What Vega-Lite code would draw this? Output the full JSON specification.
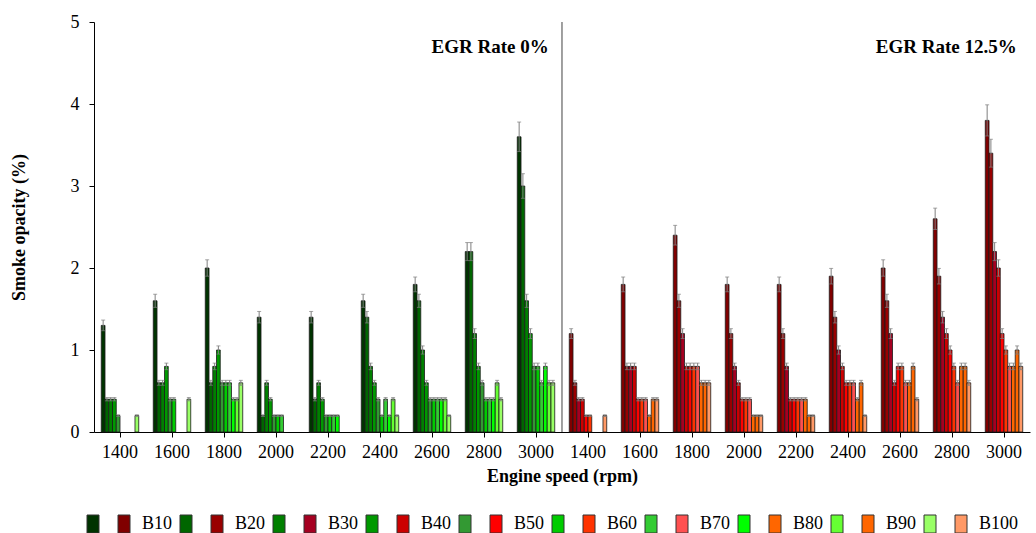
{
  "$schema": "https://vega.github.io/schema/vega-lite/v6.json",
  "width": 936,
  "height": 410,
  "autosize": "none",
  "padding": {"left": 94, "top": 22, "right": 6, "bottom": 101},
  "background": "white",
  "config": {
    "view": {"stroke": null},
    "font": "Liberation Serif",
    "axis": {
      "labelFont": "Liberation Serif",
      "titleFont": "Liberation Serif",
      "labelFontSize": 18,
      "titleFontSize": 18,
      "titleFontWeight": "bold",
      "labelColor": "black",
      "titleColor": "black",
      "domainColor": "black",
      "tickColor": "black",
      "tickSize": 5,
      "grid": false
    }
  },
  "datasets": {
    "bars": [
      {"c":"0%|1400","b":"B10","k":"G-B10","v":1.3,"e":0.065},
      {"c":"0%|1400","b":"B20","k":"G-B20","v":0.4,"e":0.02},
      {"c":"0%|1400","b":"B30","k":"G-B30","v":0.4,"e":0.02},
      {"c":"0%|1400","b":"B40","k":"G-B40","v":0.4,"e":0.02},
      {"c":"0%|1400","b":"B50","k":"G-B50","v":0.2,"e":0.01},
      {"c":"0%|1400","b":"B100","k":"G-B100","v":0.2,"e":0.01},
      {"c":"0%|1600","b":"B10","k":"G-B10","v":1.6,"e":0.08},
      {"c":"0%|1600","b":"B20","k":"G-B20","v":0.6,"e":0.03},
      {"c":"0%|1600","b":"B30","k":"G-B30","v":0.6,"e":0.03},
      {"c":"0%|1600","b":"B40","k":"G-B40","v":0.8,"e":0.04},
      {"c":"0%|1600","b":"B50","k":"G-B50","v":0.4,"e":0.02},
      {"c":"0%|1600","b":"B60","k":"G-B60","v":0.4,"e":0.02},
      {"c":"0%|1600","b":"B100","k":"G-B100","v":0.4,"e":0.02},
      {"c":"0%|1800","b":"B10","k":"G-B10","v":2.0,"e":0.1},
      {"c":"0%|1800","b":"B20","k":"G-B20","v":0.6,"e":0.03},
      {"c":"0%|1800","b":"B30","k":"G-B30","v":0.8,"e":0.04},
      {"c":"0%|1800","b":"B40","k":"G-B40","v":1.0,"e":0.05},
      {"c":"0%|1800","b":"B50","k":"G-B50","v":0.6,"e":0.03},
      {"c":"0%|1800","b":"B60","k":"G-B60","v":0.6,"e":0.03},
      {"c":"0%|1800","b":"B70","k":"G-B70","v":0.6,"e":0.03},
      {"c":"0%|1800","b":"B80","k":"G-B80","v":0.4,"e":0.02},
      {"c":"0%|1800","b":"B90","k":"G-B90","v":0.4,"e":0.02},
      {"c":"0%|1800","b":"B100","k":"G-B100","v":0.6,"e":0.03},
      {"c":"0%|2000","b":"B10","k":"G-B10","v":1.4,"e":0.07},
      {"c":"0%|2000","b":"B20","k":"G-B20","v":0.2,"e":0.01},
      {"c":"0%|2000","b":"B30","k":"G-B30","v":0.6,"e":0.03},
      {"c":"0%|2000","b":"B40","k":"G-B40","v":0.4,"e":0.02},
      {"c":"0%|2000","b":"B50","k":"G-B50","v":0.2,"e":0.01},
      {"c":"0%|2000","b":"B60","k":"G-B60","v":0.2,"e":0.01},
      {"c":"0%|2000","b":"B70","k":"G-B70","v":0.2,"e":0.01},
      {"c":"0%|2200","b":"B10","k":"G-B10","v":1.4,"e":0.07},
      {"c":"0%|2200","b":"B20","k":"G-B20","v":0.4,"e":0.02},
      {"c":"0%|2200","b":"B30","k":"G-B30","v":0.6,"e":0.03},
      {"c":"0%|2200","b":"B40","k":"G-B40","v":0.4,"e":0.02},
      {"c":"0%|2200","b":"B50","k":"G-B50","v":0.2,"e":0.01},
      {"c":"0%|2200","b":"B60","k":"G-B60","v":0.2,"e":0.01},
      {"c":"0%|2200","b":"B70","k":"G-B70","v":0.2,"e":0.01},
      {"c":"0%|2200","b":"B80","k":"G-B80","v":0.2,"e":0.01},
      {"c":"0%|2400","b":"B10","k":"G-B10","v":1.6,"e":0.08},
      {"c":"0%|2400","b":"B20","k":"G-B20","v":1.4,"e":0.07},
      {"c":"0%|2400","b":"B30","k":"G-B30","v":0.8,"e":0.04},
      {"c":"0%|2400","b":"B40","k":"G-B40","v":0.6,"e":0.03},
      {"c":"0%|2400","b":"B50","k":"G-B50","v":0.4,"e":0.02},
      {"c":"0%|2400","b":"B60","k":"G-B60","v":0.2,"e":0.01},
      {"c":"0%|2400","b":"B70","k":"G-B70","v":0.4,"e":0.02},
      {"c":"0%|2400","b":"B80","k":"G-B80","v":0.2,"e":0.01},
      {"c":"0%|2400","b":"B90","k":"G-B90","v":0.4,"e":0.02},
      {"c":"0%|2400","b":"B100","k":"G-B100","v":0.2,"e":0.01},
      {"c":"0%|2600","b":"B10","k":"G-B10","v":1.8,"e":0.09},
      {"c":"0%|2600","b":"B20","k":"G-B20","v":1.6,"e":0.08},
      {"c":"0%|2600","b":"B30","k":"G-B30","v":1.0,"e":0.05},
      {"c":"0%|2600","b":"B40","k":"G-B40","v":0.6,"e":0.03},
      {"c":"0%|2600","b":"B50","k":"G-B50","v":0.4,"e":0.02},
      {"c":"0%|2600","b":"B60","k":"G-B60","v":0.4,"e":0.02},
      {"c":"0%|2600","b":"B70","k":"G-B70","v":0.4,"e":0.02},
      {"c":"0%|2600","b":"B80","k":"G-B80","v":0.4,"e":0.02},
      {"c":"0%|2600","b":"B90","k":"G-B90","v":0.4,"e":0.02},
      {"c":"0%|2600","b":"B100","k":"G-B100","v":0.2,"e":0.01},
      {"c":"0%|2800","b":"B10","k":"G-B10","v":2.2,"e":0.11},
      {"c":"0%|2800","b":"B20","k":"G-B20","v":2.2,"e":0.11},
      {"c":"0%|2800","b":"B30","k":"G-B30","v":1.2,"e":0.06},
      {"c":"0%|2800","b":"B40","k":"G-B40","v":0.8,"e":0.04},
      {"c":"0%|2800","b":"B50","k":"G-B50","v":0.6,"e":0.03},
      {"c":"0%|2800","b":"B60","k":"G-B60","v":0.4,"e":0.02},
      {"c":"0%|2800","b":"B70","k":"G-B70","v":0.4,"e":0.02},
      {"c":"0%|2800","b":"B80","k":"G-B80","v":0.4,"e":0.02},
      {"c":"0%|2800","b":"B90","k":"G-B90","v":0.6,"e":0.03},
      {"c":"0%|2800","b":"B100","k":"G-B100","v":0.4,"e":0.02},
      {"c":"0%|3000","b":"B10","k":"G-B10","v":3.6,"e":0.18},
      {"c":"0%|3000","b":"B20","k":"G-B20","v":3.0,"e":0.15},
      {"c":"0%|3000","b":"B30","k":"G-B30","v":1.6,"e":0.08},
      {"c":"0%|3000","b":"B40","k":"G-B40","v":1.2,"e":0.06},
      {"c":"0%|3000","b":"B50","k":"G-B50","v":0.8,"e":0.04},
      {"c":"0%|3000","b":"B60","k":"G-B60","v":0.8,"e":0.04},
      {"c":"0%|3000","b":"B70","k":"G-B70","v":0.6,"e":0.03},
      {"c":"0%|3000","b":"B80","k":"G-B80","v":0.8,"e":0.04},
      {"c":"0%|3000","b":"B90","k":"G-B90","v":0.6,"e":0.03},
      {"c":"0%|3000","b":"B100","k":"G-B100","v":0.6,"e":0.03},
      {"c":"12.5%|1400","b":"B10","k":"R-B10","v":1.2,"e":0.06},
      {"c":"12.5%|1400","b":"B20","k":"R-B20","v":0.6,"e":0.03},
      {"c":"12.5%|1400","b":"B30","k":"R-B30","v":0.4,"e":0.02},
      {"c":"12.5%|1400","b":"B40","k":"R-B40","v":0.4,"e":0.02},
      {"c":"12.5%|1400","b":"B50","k":"R-B50","v":0.2,"e":0.01},
      {"c":"12.5%|1400","b":"B60","k":"R-B60","v":0.2,"e":0.01},
      {"c":"12.5%|1400","b":"B100","k":"R-B100","v":0.2,"e":0.01},
      {"c":"12.5%|1600","b":"B10","k":"R-B10","v":1.8,"e":0.09},
      {"c":"12.5%|1600","b":"B20","k":"R-B20","v":0.8,"e":0.04},
      {"c":"12.5%|1600","b":"B30","k":"R-B30","v":0.8,"e":0.04},
      {"c":"12.5%|1600","b":"B40","k":"R-B40","v":0.8,"e":0.04},
      {"c":"12.5%|1600","b":"B50","k":"R-B50","v":0.4,"e":0.02},
      {"c":"12.5%|1600","b":"B60","k":"R-B60","v":0.4,"e":0.02},
      {"c":"12.5%|1600","b":"B70","k":"R-B70","v":0.4,"e":0.02},
      {"c":"12.5%|1600","b":"B80","k":"R-B80","v":0.2,"e":0.01},
      {"c":"12.5%|1600","b":"B90","k":"R-B90","v":0.4,"e":0.02},
      {"c":"12.5%|1600","b":"B100","k":"R-B100","v":0.4,"e":0.02},
      {"c":"12.5%|1800","b":"B10","k":"R-B10","v":2.4,"e":0.12},
      {"c":"12.5%|1800","b":"B20","k":"R-B20","v":1.6,"e":0.08},
      {"c":"12.5%|1800","b":"B30","k":"R-B30","v":1.2,"e":0.06},
      {"c":"12.5%|1800","b":"B40","k":"R-B40","v":0.8,"e":0.04},
      {"c":"12.5%|1800","b":"B50","k":"R-B50","v":0.8,"e":0.04},
      {"c":"12.5%|1800","b":"B60","k":"R-B60","v":0.8,"e":0.04},
      {"c":"12.5%|1800","b":"B70","k":"R-B70","v":0.8,"e":0.04},
      {"c":"12.5%|1800","b":"B80","k":"R-B80","v":0.6,"e":0.03},
      {"c":"12.5%|1800","b":"B90","k":"R-B90","v":0.6,"e":0.03},
      {"c":"12.5%|1800","b":"B100","k":"R-B100","v":0.6,"e":0.03},
      {"c":"12.5%|2000","b":"B10","k":"R-B10","v":1.8,"e":0.09},
      {"c":"12.5%|2000","b":"B20","k":"R-B20","v":1.2,"e":0.06},
      {"c":"12.5%|2000","b":"B30","k":"R-B30","v":0.8,"e":0.04},
      {"c":"12.5%|2000","b":"B40","k":"R-B40","v":0.6,"e":0.03},
      {"c":"12.5%|2000","b":"B50","k":"R-B50","v":0.4,"e":0.02},
      {"c":"12.5%|2000","b":"B60","k":"R-B60","v":0.4,"e":0.02},
      {"c":"12.5%|2000","b":"B70","k":"R-B70","v":0.4,"e":0.02},
      {"c":"12.5%|2000","b":"B80","k":"R-B80","v":0.2,"e":0.01},
      {"c":"12.5%|2000","b":"B90","k":"R-B90","v":0.2,"e":0.01},
      {"c":"12.5%|2000","b":"B100","k":"R-B100","v":0.2,"e":0.01},
      {"c":"12.5%|2200","b":"B10","k":"R-B10","v":1.8,"e":0.09},
      {"c":"12.5%|2200","b":"B20","k":"R-B20","v":1.2,"e":0.06},
      {"c":"12.5%|2200","b":"B30","k":"R-B30","v":0.8,"e":0.04},
      {"c":"12.5%|2200","b":"B40","k":"R-B40","v":0.4,"e":0.02},
      {"c":"12.5%|2200","b":"B50","k":"R-B50","v":0.4,"e":0.02},
      {"c":"12.5%|2200","b":"B60","k":"R-B60","v":0.4,"e":0.02},
      {"c":"12.5%|2200","b":"B70","k":"R-B70","v":0.4,"e":0.02},
      {"c":"12.5%|2200","b":"B80","k":"R-B80","v":0.4,"e":0.02},
      {"c":"12.5%|2200","b":"B90","k":"R-B90","v":0.2,"e":0.01},
      {"c":"12.5%|2200","b":"B100","k":"R-B100","v":0.2,"e":0.01},
      {"c":"12.5%|2400","b":"B10","k":"R-B10","v":1.9,"e":0.095},
      {"c":"12.5%|2400","b":"B20","k":"R-B20","v":1.4,"e":0.07},
      {"c":"12.5%|2400","b":"B30","k":"R-B30","v":1.0,"e":0.05},
      {"c":"12.5%|2400","b":"B40","k":"R-B40","v":0.8,"e":0.04},
      {"c":"12.5%|2400","b":"B50","k":"R-B50","v":0.6,"e":0.03},
      {"c":"12.5%|2400","b":"B60","k":"R-B60","v":0.6,"e":0.03},
      {"c":"12.5%|2400","b":"B70","k":"R-B70","v":0.6,"e":0.03},
      {"c":"12.5%|2400","b":"B80","k":"R-B80","v":0.4,"e":0.02},
      {"c":"12.5%|2400","b":"B90","k":"R-B90","v":0.6,"e":0.03},
      {"c":"12.5%|2400","b":"B100","k":"R-B100","v":0.2,"e":0.01},
      {"c":"12.5%|2600","b":"B10","k":"R-B10","v":2.0,"e":0.1},
      {"c":"12.5%|2600","b":"B20","k":"R-B20","v":1.6,"e":0.08},
      {"c":"12.5%|2600","b":"B30","k":"R-B30","v":1.2,"e":0.06},
      {"c":"12.5%|2600","b":"B40","k":"R-B40","v":0.6,"e":0.03},
      {"c":"12.5%|2600","b":"B50","k":"R-B50","v":0.8,"e":0.04},
      {"c":"12.5%|2600","b":"B60","k":"R-B60","v":0.8,"e":0.04},
      {"c":"12.5%|2600","b":"B70","k":"R-B70","v":0.6,"e":0.03},
      {"c":"12.5%|2600","b":"B80","k":"R-B80","v":0.6,"e":0.03},
      {"c":"12.5%|2600","b":"B90","k":"R-B90","v":0.8,"e":0.04},
      {"c":"12.5%|2600","b":"B100","k":"R-B100","v":0.4,"e":0.02},
      {"c":"12.5%|2800","b":"B10","k":"R-B10","v":2.6,"e":0.13},
      {"c":"12.5%|2800","b":"B20","k":"R-B20","v":1.9,"e":0.095},
      {"c":"12.5%|2800","b":"B30","k":"R-B30","v":1.4,"e":0.07},
      {"c":"12.5%|2800","b":"B40","k":"R-B40","v":1.2,"e":0.06},
      {"c":"12.5%|2800","b":"B50","k":"R-B50","v":1.0,"e":0.05},
      {"c":"12.5%|2800","b":"B60","k":"R-B60","v":0.8,"e":0.04},
      {"c":"12.5%|2800","b":"B70","k":"R-B70","v":0.6,"e":0.03},
      {"c":"12.5%|2800","b":"B80","k":"R-B80","v":0.8,"e":0.04},
      {"c":"12.5%|2800","b":"B90","k":"R-B90","v":0.8,"e":0.04},
      {"c":"12.5%|2800","b":"B100","k":"R-B100","v":0.6,"e":0.03},
      {"c":"12.5%|3000","b":"B10","k":"R-B10","v":3.8,"e":0.19},
      {"c":"12.5%|3000","b":"B20","k":"R-B20","v":3.4,"e":0.17},
      {"c":"12.5%|3000","b":"B30","k":"R-B30","v":2.2,"e":0.11},
      {"c":"12.5%|3000","b":"B40","k":"R-B40","v":2.0,"e":0.1},
      {"c":"12.5%|3000","b":"B50","k":"R-B50","v":1.2,"e":0.06},
      {"c":"12.5%|3000","b":"B60","k":"R-B60","v":1.0,"e":0.05},
      {"c":"12.5%|3000","b":"B70","k":"R-B70","v":0.8,"e":0.04},
      {"c":"12.5%|3000","b":"B80","k":"R-B80","v":0.8,"e":0.04},
      {"c":"12.5%|3000","b":"B90","k":"R-B90","v":1.0,"e":0.05},
      {"c":"12.5%|3000","b":"B100","k":"R-B100","v":0.8,"e":0.04}
    ],
    "notes": [
      {"c": "0%|3000", "t": "EGR Rate 0%"},
      {"c": "12.5%|3000", "t": "EGR Rate 12.5%"}
    ]
  },
  "layer": [
    {
      "data": {"name": "bars"},
      "mark": {"type": "bar", "stroke": "#1a1a1a", "strokeWidth": 0.8},
      "encoding": {
        "x": {
          "field": "c", "type": "nominal",
          "scale": {
            "domain": ["0%|1400","0%|1600","0%|1800","0%|2000","0%|2200","0%|2400","0%|2600","0%|2800","0%|3000","12.5%|1400","12.5%|1600","12.5%|1800","12.5%|2000","12.5%|2200","12.5%|2400","12.5%|2600","12.5%|2800","12.5%|3000"],
            "paddingInner": 0.28, "paddingOuter": 0.14
          },
          "axis": {"title": "Engine speed (rpm)", "labelExpr": "split(datum.label, '|')[1]", "labelAngle": 0, "labelPadding": 6, "titlePadding": 6}
        },
        "xOffset": {"field": "b", "type": "nominal", "scale": {"domain": ["B10","B20","B30","B40","B50","B60","B70","B80","B90","B100"]}},
        "y": {
          "field": "v", "type": "quantitative",
          "title": "Smoke opacity (%)",
          "scale": {"domain": [0, 5]},
          "axis": {"values": [0,1,2,3,4,5], "format": "d", "labelPadding": 10, "titlePadding": 42}
        },
        "color": {
          "field": "k", "type": "nominal",
          "scale": {
            "domain": ["G-B10","R-B10","G-B20","R-B20","G-B30","R-B30","G-B40","R-B40","G-B50","R-B50","G-B60","R-B60","G-B70","R-B70","G-B80","R-B80","G-B90","R-B90","G-B100","R-B100"],
            "range": ["#003300","#800000","#006600","#990000","#008000","#A50021","#009900","#CC0000","#339933","#FF0000","#00CC00","#FF3300","#33CC33","#FF5050","#00FF00","#FF6600","#66FF33","#FF6600","#99FF66","#FF9966"]
          },
          "legend": {
            "title": null,
            "orient": "none",
            "legendX": -10,
            "legendY": 493,
            "direction": "horizontal",
            "columns": 20,
            "symbolType": "M-1,-1.5H1V1.5H-1Z",
            "symbolSize": 144,
            "symbolStrokeColor": "#333333",
            "symbolStrokeWidth": 1,
            "labelFont": "Liberation Serif",
            "labelFontSize": 18,
            "labelColor": "black",
            "labelOffset": 9,
            "columnPadding": 4,
            "labelExpr": "indexof(datum.label, 'G-') == 0 ? '' : substring(datum.label, 2)"
          }
        }
      }
    },
    {
      "data": {"name": "bars"},
      "mark": {"type": "errorbar", "ticks": {"size": 4}, "color": "#7f7f7f", "thickness": 1},
      "encoding": {
        "x": {"field": "c", "type": "nominal"},
        "xOffset": {"field": "b", "type": "nominal"},
        "y": {"field": "v", "type": "quantitative", "title": "Smoke opacity (%)"},
        "yError": {"field": "e"}
      }
    },
    {
      "data": {"values": [{"p": "divider"}]},
      "mark": {"type": "rule", "color": "#808080", "strokeWidth": 1.5, "xOffset": -7.3},
      "encoding": {
        "x": {"datum": "12.5%|1400", "bandPosition": 0},
        "y": {"datum": 0},
        "y2": {"datum": 5}
      }
    },
    {
      "data": {"name": "notes"},
      "mark": {"type": "text", "align": "right", "baseline": "middle", "fontWeight": "bold", "fontSize": 19, "font": "Liberation Serif", "color": "black", "dx": -6},
      "encoding": {
        "x": {"field": "c", "type": "nominal", "bandPosition": 1},
        "y": {"datum": 4.7},
        "text": {"field": "t"}
      }
    }
  ]
}
